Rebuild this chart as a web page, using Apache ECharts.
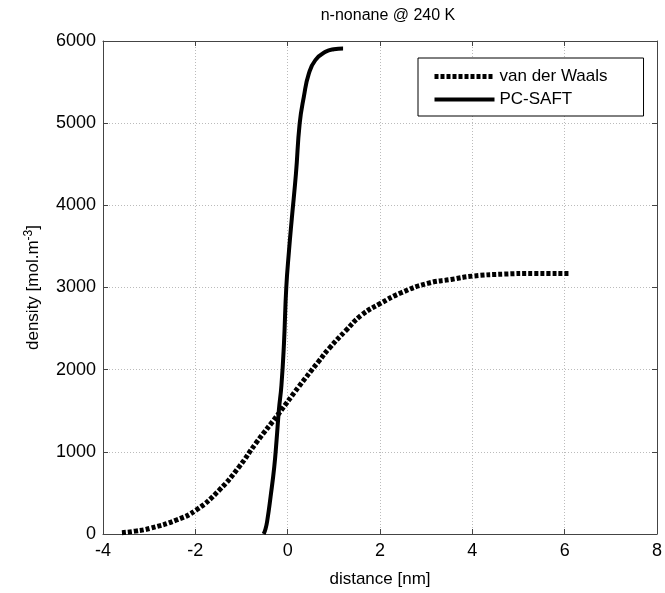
<!DOCTYPE html>
<html>
<head>
<meta charset="utf-8">
<script src="https://cdn.jsdelivr.net/npm/echarts@6/dist/echarts.min.js"></script>
<style>
  html, body { margin: 0; padding: 0; background: #fff; }
  #chart { width: 665px; height: 593px; }
</style>
</head>
<body>
<div id="chart"></div>
<script>
// values
var vdwX = [-3.59, -3.30, -2.98, -2.41, -1.98, -1.48, -1.05, -0.69, -0.19, 0.24, 0.67, 0.90, 1.25, 1.60, 2.01, 2.46, 3.03, 3.54, 4.01, 4.69, 5.33, 6.12]
var vdwY = [16, 35, 69, 170, 292, 535, 819, 1103, 1468, 1792, 2100, 2260, 2470, 2664, 2806, 2936, 3050, 3098, 3139, 3163, 3171, 3171]

var pcX = [-0.52, -0.48, -0.44, -0.37, -0.29, -0.24, -0.19, -0.135, -0.08, -0.03, 0.03, 0.09, 0.18, 0.26, 0.35, 0.46, 0.60, 0.82, 1.00, 1.20]
var pcY = [0, 60, 170, 454, 819, 1144, 1509, 1810, 2320, 3000, 3455, 3840, 4388, 4996, 5320, 5605, 5767, 5868, 5900, 5909]

var xTicks = [-4, -2, 0, 2, 4, 6, 8]
var yTicks = [0, 1000, 2000, 3000, 4000, 5000, 6000]

var font = 'Liberation Sans, Arial, Helvetica, sans-serif'

function pairs(xs, ys) {
  return xs.map(function (x, i) { return [x, ys[i]] })
}

var chart = echarts.init(document.getElementById('chart'))

var xBase = {
  type: 'value',
  min: xTicks[0],
  max: xTicks[xTicks.length - 1],
  interval: 2,
  axisLine: { show: true, onZero: false, lineStyle: { color: '#444', width: 1 } },
  axisTick: { show: true, inside: true, length: 5, lineStyle: { color: '#444' } }
}
var yBase = {
  type: 'value',
  min: yTicks[0],
  max: yTicks[yTicks.length - 1],
  interval: 1000,
  axisLine: { show: true, onZero: false, lineStyle: { color: '#444', width: 1 } },
  axisTick: { show: true, inside: true, length: 5, lineStyle: { color: '#444' } }
}

var vdwDash = [4, 2]

chart.setOption({
  animation: false,
  backgroundColor: '#fff',
  title: {
    text: 'n-nonane @ 240 K',
    left: 383,
    top: 3,
    textAlign: 'center',
    textStyle: { fontFamily: font, fontSize: 16, fontWeight: 'normal', color: '#000' }
  },
  grid: { left: 103, right: 3, top: 41, bottom: 59, containLabel: false },
  legend: {
    orient: 'vertical',
    left: 418,
    top: 58,
    padding: [10, 36, 8, 14],
    itemGap: 6,
    itemWidth: 60,
    itemHeight: 10,
    borderColor: '#000',
    borderWidth: 1,
    backgroundColor: '#fff',
    itemStyle: { opacity: 0 },
    textStyle: { fontFamily: font, fontSize: 17, color: '#000' },
    data: [
      { name: 'van der Waals', itemStyle: { opacity: 0 }, lineStyle: { width: 5, type: vdwDash, color: '#000' } },
      { name: 'PC-SAFT', itemStyle: { opacity: 0 }, lineStyle: { width: 4, color: '#000' } }
    ]
  },
  xAxis: [
    Object.assign({}, xBase, {
      position: 'bottom',
      name: 'distance [nm]',
      nameLocation: 'middle',
      nameGap: 37,
      nameTextStyle: { fontFamily: font, fontSize: 17, color: '#000' },
      axisLabel: { fontFamily: font, fontSize: 18, color: '#000', margin: 8 },
      splitLine: { show: true, lineStyle: { color: '#bbb', type: [1, 2], width: 1 } }
    }),
    Object.assign({}, xBase, {
      position: 'top',
      axisLabel: { show: false },
      splitLine: { show: false }
    })
  ],
  yAxis: [
    Object.assign({}, yBase, {
      position: 'left',
      name: '{a|density [mol.m}{s|-3}{a|]}',
      nameLocation: 'middle',
      nameRotate: 90,
      nameGap: 60,
      nameTextStyle: {
        rich: {
          a: { fontFamily: font, fontSize: 17, color: '#000' },
          s: { fontFamily: font, fontSize: 12, color: '#000', verticalAlign: 'top', padding: [0, 0, 8, 0] }
        }
      },
      axisLabel: {
        fontFamily: font, fontSize: 18, color: '#000', margin: 7,
        formatter: function (v) { return String(v) }
      },
      splitLine: { show: true, lineStyle: { color: '#bbb', type: [1, 2], width: 1 } }
    }),
    Object.assign({}, yBase, {
      position: 'right',
      axisLabel: { show: false },
      splitLine: { show: false }
    })
  ],
  series: [
    {
      name: 'van der Waals',
      type: 'line',
      data: pairs(vdwX, vdwY),
      showSymbol: false,
      symbol: 'none',
      smooth: 0.5,
      color: '#000',
      lineStyle: { color: '#000', width: 5, type: vdwDash, cap: 'butt' }
    },
    {
      name: 'PC-SAFT',
      type: 'line',
      data: pairs(pcX, pcY),
      showSymbol: false,
      symbol: 'none',
      smooth: 0.5,
      color: '#000',
      lineStyle: { color: '#000', width: 4 }
    }
  ]
})
</script>
</body>
</html>
